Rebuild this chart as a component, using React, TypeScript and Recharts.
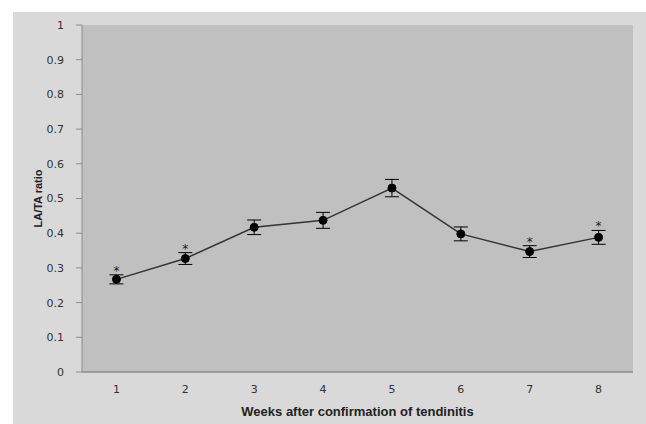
import React from 'react';
import { LineChart, Line, XAxis, YAxis, CartesianGrid, ErrorBar, LabelList, Label } from 'recharts';

const weeks = ['1', '2', '3', '4', '5', '6', '7', '8'];
const ratio = [0.267, 0.327, 0.417, 0.437, 0.53, 0.398, 0.347, 0.388];
const sem = [0.013, 0.017, 0.021, 0.023, 0.025, 0.02, 0.017, 0.02];
const significant = [true, true, false, false, false, false, true, true];
const yTicks = [0, 0.1, 0.2, 0.3, 0.4, 0.5, 0.6, 0.7, 0.8, 0.9, 1];

const data = weeks.map((w, i) => ({
  week: w,
  ratio: ratio[i],
  err: sem[i],
  star: significant[i] ? ratio[i] + sem[i] : null,
}));

const tickFont = { fontFamily: 'DejaVu Sans', fontSize: 11, fill: '#333' };

const StarLabel = (props: any) => {
  const { x, y, value } = props;
  if (value == null) return null;
  return (
    <text x={x} y={y} textAnchor="middle" fontFamily="DejaVu Sans" fontSize={12} fill="#222">
      *
    </text>
  );
};

const YTitle = (props: any) => {
  const { viewBox } = props;
  const cx = viewBox.x + 38;
  const cy = viewBox.y + viewBox.height / 2;
  return (
    <text
      x={cx}
      y={cy}
      transform={`rotate(-90, ${cx}, ${cy})`}
      textAnchor="middle"
      dominantBaseline="central"
      fontFamily="Liberation Sans"
      fontWeight="bold"
      fontSize={11}
      fill="#222"
    >
      LA/TA ratio
    </text>
  );
};

export default function App() {
  return (
    <div style={{ position: 'absolute', left: 0, top: 0, width: 646, height: 424, background: '#ffffff' }}>
      <div style={{ position: 'absolute', left: 13, top: 12, width: 633, height: 412, background: '#d9d9d9' }} />
      <div style={{ position: 'absolute', left: 0, top: 0 }}>
        <LineChart width={646} height={424} data={data} margin={{ top: 25, right: 13, left: 0, bottom: 0 }}>
          <CartesianGrid horizontal={false} vertical={false} fill="#c0c0c0" />
          <XAxis
            dataKey="week"
            scale="band"
            height={52}
            tick={tickFont}
            tickLine={false}
            tickSize={0}
            tickMargin={13}
            axisLine={{ stroke: '#8c8c8c', strokeWidth: 1.5 }}
          >
            <Label
              value="Weeks after confirmation of tendinitis"
              position="insideBottom"
              offset={8}
              style={{ fontFamily: 'Liberation Sans', fontWeight: 'bold', fontSize: 13, fill: '#222' }}
            />
          </XAxis>
          <YAxis
            width={82}
            domain={[0, 1]}
            ticks={yTicks}
            interval={0}
            tick={tickFont}
            tickSize={6}
            tickMargin={12}
            tickLine={{ stroke: '#8c8c8c' }}
            axisLine={{ stroke: '#8c8c8c' }}
          >
            <Label content={<YTitle />} />
          </YAxis>
          <Line
            type="linear"
            dataKey="ratio"
            stroke="#333333"
            strokeWidth={1.5}
            dot={{ r: 4, fill: '#000', stroke: '#000', strokeWidth: 1 }}
            activeDot={false}
            isAnimationActive={false}
          >
            <ErrorBar dataKey="err" width={7} stroke="#000" strokeWidth={1} direction="y" />
          </Line>
          <Line
            type="linear"
            dataKey="star"
            stroke="none"
            dot={false}
            activeDot={false}
            legendType="none"
            isAnimationActive={false}
          >
            <LabelList dataKey="star" content={<StarLabel />} />
          </Line>
        </LineChart>
      </div>
    </div>
  );
}
